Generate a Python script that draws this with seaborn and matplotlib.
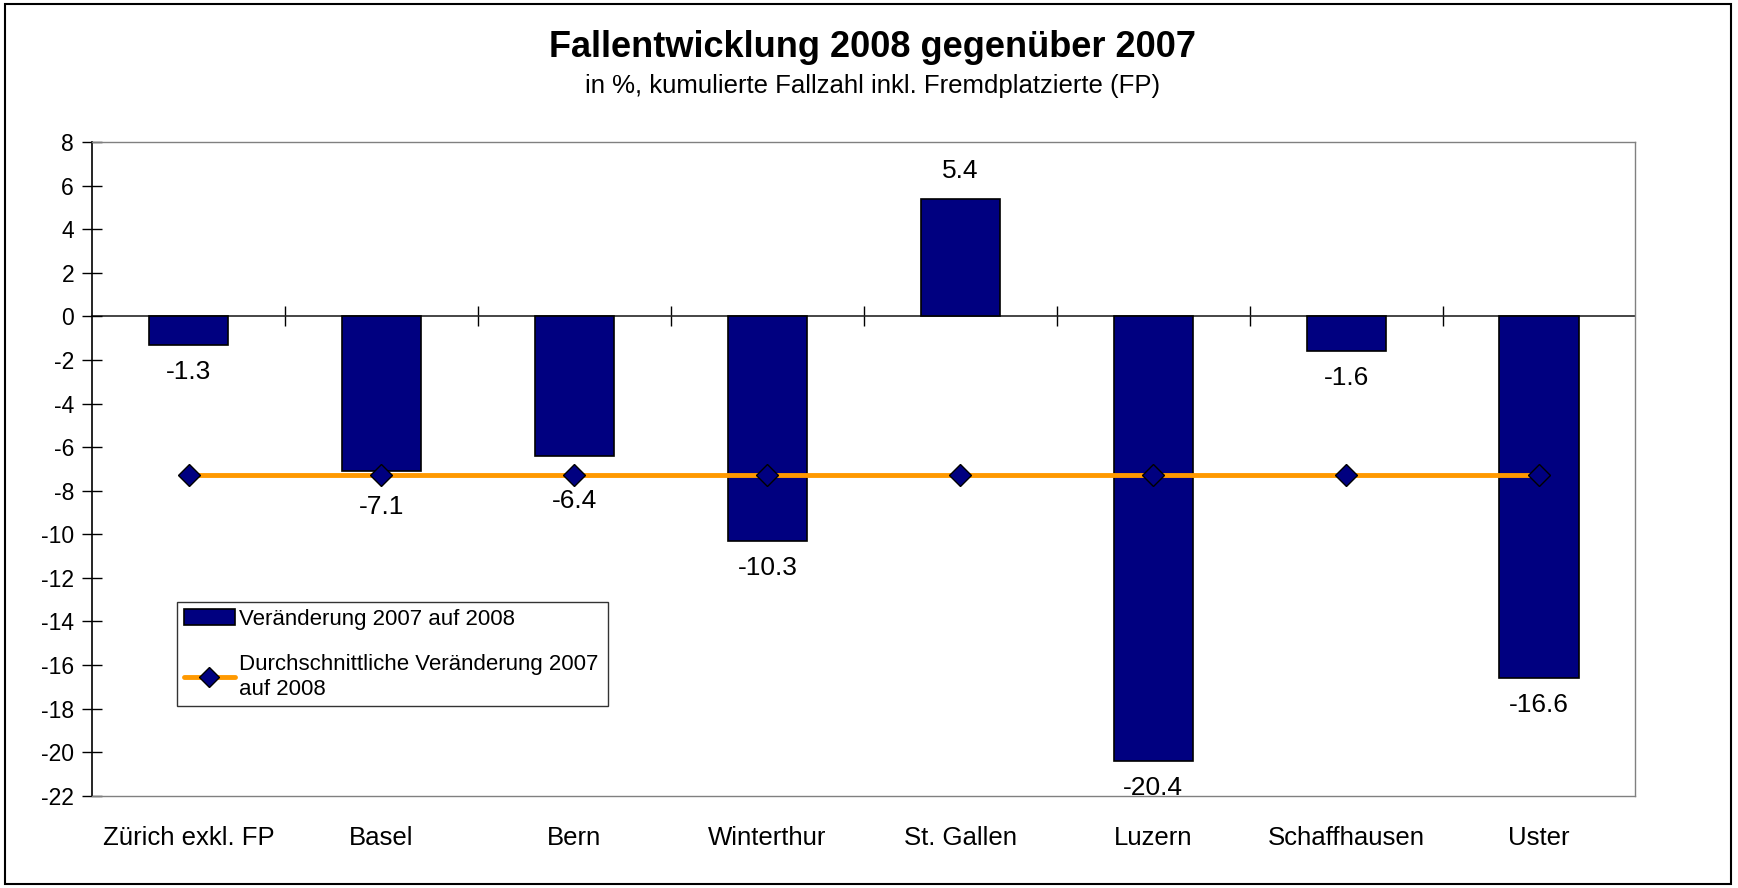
import numpy as np
import matplotlib
matplotlib.use("Agg")
import matplotlib.pyplot as plt
import seaborn as sns
from matplotlib.patches import Patch, Rectangle
from matplotlib.lines import Line2D

# Data
cities = ["Zürich exkl. FP", "Basel", "Bern", "Winterthur", "St. Gallen",
          "Luzern", "Schaffhausen", "Uster"]
change = [-1.3, -7.1, -6.4, -10.3, 5.4, -20.4, -1.6, -16.6]
avg_change = [-7.3] * len(cities)
yticks = list(range(-22, 9, 2))

title = "Fallentwicklung 2008 gegenüber 2007"
subtitle = "in %, kumulierte Fallzahl inkl. Fremdplatzierte (FP)"
bar_label = "Veränderung 2007 auf 2008"
line_label = "Durchschnittliche Veränderung 2007\nauf 2008"

sns.set_style("white")
plt.rcParams["font.family"] = ["Liberation Sans", "DejaVu Sans"]
plt.rcParams["axes.unicode_minus"] = False
plt.rcParams["text.color"] = "black"
plt.rcParams["xtick.color"] = "black"
plt.rcParams["ytick.color"] = "black"
plt.rcParams["axes.labelcolor"] = "black"

navy = "#000080"
orange = "#FF9900"

fig = plt.figure(figsize=(17.38, 8.88), dpi=100)
ax = fig.add_axes([0.053, 0.104, 0.888, 0.736])

sns.barplot(x=cities, y=change, color=navy, width=0.41, edgecolor="black",
            linewidth=1.2, saturation=1, ax=ax)
ax.plot(np.arange(len(cities)), avg_change, color=orange, lw=3.5, marker="D",
        markersize=11, markerfacecolor=navy, markeredgecolor="black",
        markeredgewidth=1, zorder=5)

# value labels; the two that end near the average line are pushed below it
pads = [11, 17.5, 24, 11, 11, 11, 11, 11]
for i, v in enumerate(change):
    lbls = [f"{v:.1f}" if j == i else "" for j in range(len(change))]
    ax.bar_label(ax.containers[0], labels=lbls, padding=pads[i], fontsize=19)

ax.set_ylim(-22, 8)
ax.set_xlim(-0.5, len(cities) - 0.5)
ax.set_yticks(yticks)
ax.tick_params(axis="y", direction="inout", length=14, width=1, labelsize=16.5,
               left=True, pad=6)
ax.tick_params(axis="x", length=0, labelsize=18.5, pad=22)
ax.set_xlabel("")
ax.set_ylabel("")

for side in ["top", "right", "bottom"]:
    ax.spines[side].set_color("#808080")
    ax.spines[side].set_linewidth(1)
ax.spines["left"].set_color("black")
ax.spines["left"].set_linewidth(1.2)

# zero line with category separators
zero_pos = (0 - (-22)) / 30
sec = ax.secondary_xaxis(zero_pos)
sec.set_xticks(np.arange(0.5, len(cities) - 0.5, 1))
sec.set_xticklabels([])
sec.tick_params(direction="inout", length=14, width=1, color="black")
sec.spines["bottom"].set_linewidth(1.2)
sec.spines["top"].set_linewidth(1.2)

handles = [Patch(facecolor=navy, edgecolor="black", linewidth=1.2),
           Line2D([0], [0], color=orange, lw=3.5, marker="D", markersize=10,
                  markerfacecolor=navy, markeredgecolor="black")]
leg = ax.legend(handles, [bar_label, line_label], loc="upper left",
                bbox_to_anchor=(0.055, 0.0, 0.279, 0.296), mode="expand",
                fontsize=16, frameon=True, fancybox=False, edgecolor="black",
                handlelength=2.3, labelspacing=1.1, borderpad=0.3,
                handletextpad=0.2, borderaxespad=0)
leg.get_frame().set_linewidth(1)

fig.text(0.502, 0.946, title, ha="center", va="center", fontsize=26,
         fontweight="bold")
fig.text(0.502, 0.903, subtitle, ha="center", va="center", fontsize=18.5)

fig.patches.append(Rectangle((0.003, 0.005), 0.993, 0.99, transform=fig.transFigure,
                             fill=False, edgecolor="black", linewidth=1.5))

fig.savefig("out.png", dpi=100)
